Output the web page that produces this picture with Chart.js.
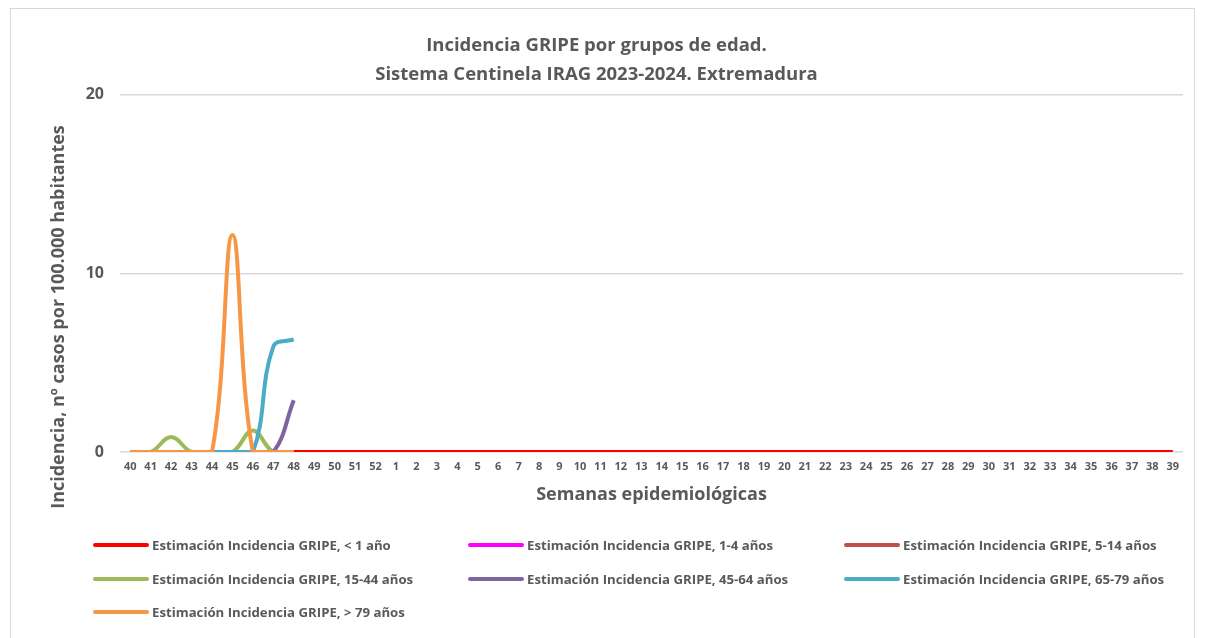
<!DOCTYPE html>
<html>
<head>
<meta charset="utf-8">
<script src="https://cdn.jsdelivr.net/npm/chart.js@4.4.1/dist/chart.umd.min.js"></script>
<style>
  html, body { margin: 0; padding: 0; background: #fff; }
  #wrap { position: relative; width: 1207px; height: 638px; overflow: hidden; }
  #frame { position: absolute; left: 10px; top: 8px; width: 1185px; height: 660px; border: 1px solid #d9d9d9; box-sizing: border-box; }
  #legend { position: absolute; left: 0; top: 0; width: 1207px; height: 638px; pointer-events: none; font-family: "Open Sans", "Liberation Sans", sans-serif; font-weight: bold; font-size: 13.2px; color: #595959; }
  .li { position: absolute; display: flex; align-items: center; white-space: nowrap; }
  .sw { width: 56px; height: 4px; margin-right: 3px; border-radius: 2px; }
  #ytitle { position: absolute; left: 57px; top: 317px; transform: translate(-50%, -50%) rotate(-90deg); white-space: nowrap; font-family: "Open Sans", sans-serif; font-weight: bold; font-size: 18px; color: #595959; }
</style>
</head>
<body>
<div id="wrap">
  <div id="frame"></div>
  <canvas id="c"></canvas>
  <div id="legend"></div>
  <div id="ytitle"></div>
</div>
<script>
const weeks = ["40","41","42","43","44","45","46","47","48","49","50","51","52",
  "1","2","3","4","5","6","7","8","9","10","11","12","13","14","15","16","17","18","19","20",
  "21","22","23","24","25","26","27","28","29","30","31","32","33","34","35","36","37","38","39"];

const labels = [
  "Estimación Incidencia GRIPE, < 1 año",
  "Estimación Incidencia GRIPE, 1-4 años",
  "Estimación Incidencia GRIPE, 5-14 años",
  "Estimación Incidencia GRIPE, 15-44 años",
  "Estimación Incidencia GRIPE, 45-64 años",
  "Estimación Incidencia GRIPE, 65-79 años",
  "Estimación Incidencia GRIPE, > 79 años"
];

const yTitle = "Incidencia, nº casos por 100.000 habitantes";

const menor1 = [0,0,0,0,0,0,0,0,0,0,0,0,0,0,0,0,0,0,0,0,0,0,0,0,0,0,0,0,0,0,0,0,0,0,0,0,0,0,0,0,0,0,0,0,0,0,0,0,0,0,0,0];
const de1a4 = [0,0,0,0,0,0,0,0,0];
const de5a14 = [0,0,0,0,0,0,0,0,0];
const de15a44 = [0,0,0.84,0,0,0,1.2,0,0];
const de45a64 = [0,0,0,0,0,0,0,0,2.9];
const de65a79 = [0,0,0,0,0,0,0,5.9,6.3];
const mayor79 = [0,0,0,0,0,12.15,0,0,0];

const colors = ["#FF0000","#FF00FF","#C0504D","#9BBB59","#8064A2","#4BACC6","#F79646"];
const series = [menor1, de1a4, de5a14, de15a44, de45a64, de65a79, mayor79];

const datasets = series.map((d, i) => ({
  label: labels[i],
  data: d,
  borderColor: colors[i],
  backgroundColor: colors[i],
  borderWidth: 4,
  pointRadius: 0,
  pointHoverRadius: 0,
  tension: 0.4,
  fill: false,
  order: 7 - i
}));

const gray = "#595959";
const FF = "'Open Sans'";

new Chart(document.getElementById("c"), {
  type: "line",
  data: { labels: weeks, datasets },
  options: {
    responsive: true,
    maintainAspectRatio: false,
    animation: false,
    layout: { padding: { left: 10, right: 24, top: 0, bottom: 126 } },
    plugins: {
      legend: { display: false },
      tooltip: { enabled: false },
      title: {
        display: true,
        text: ["Incidencia GRIPE por grupos de edad.", "Sistema Centinela IRAG 2023-2024. Extremadura"],
        color: gray,
        font: { family: FF, size: 18.5, weight: "bold", lineHeight: 1.56 },
        padding: { top: 31, bottom: 6 }
      }
    },
    scales: {
      x: {
        offset: true,
        grid: { display: false, drawTicks: false },
        border: { display: false },
        ticks: { color: gray, font: { family: FF, size: 11, weight: "bold" }, autoSkip: false, maxRotation: 0, padding: 8 },
        title: { display: true, text: "Semanas epidemiológicas", color: gray, font: { family: FF, size: 18, weight: "bold" }, padding: { top: 0, bottom: 6 } },
        afterFit: (s) => { s.height = 60; }
      },
      y: {
        min: 0, max: 20,
        ticks: { stepSize: 10, color: gray, font: { family: FF, size: 16, weight: "bold" }, padding: 16 },
        grid: { color: "#d9d9d9", lineWidth: 1.5, drawTicks: false },
        border: { display: false },
        title: { display: false },
        afterFit: (s) => { s.width = 110; }
      }
    }
  }
});

document.getElementById("ytitle").textContent = yTitle;

const leg = document.getElementById("legend");
const colX = [93, 468, 844];
labels.forEach((t, i) => {
  const el = document.createElement("div");
  el.className = "li";
  el.style.left = colX[i % 3] + "px";
  el.style.top = (545 + Math.floor(i / 3) * 33.5 - 9) + "px";
  el.style.height = "18px";
  const sw = document.createElement("span");
  sw.className = "sw";
  sw.style.background = colors[i];
  const tx = document.createElement("span");
  tx.textContent = t;
  el.appendChild(sw); el.appendChild(tx);
  leg.appendChild(el);
});
</script>
</body>
</html>
